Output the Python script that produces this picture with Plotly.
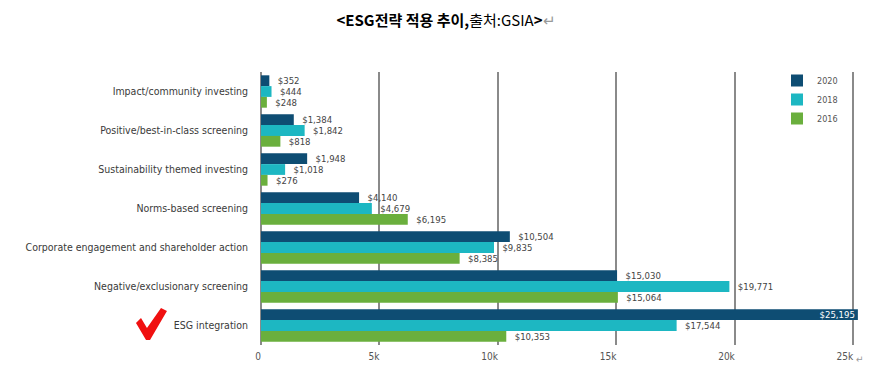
import plotly.graph_objects as go

categories = ["Impact/community investing", "Positive/best-in-class screening",
              "Sustainability themed investing", "Norms-based screening",
              "Corporate engagement and shareholder action",
              "Negative/exclusionary screening", "ESG integration"]
years = ["2020", "2018", "2016"]
v2020 = [352, 1384, 1948, 4140, 10504, 15030, 25195]
v2018 = [444, 1842, 1018, 4679, 9835, 19771, 17544]
v2016 = [248, 818, 276, 6195, 8385, 15064, 10353]
tick_vals = [0, 5000, 10000, 15000, 20000, 25000]
tick_text = ["0", "5k", "10k", "15k", "20k", "25k"]

colors = {"2020": "#0E4D73", "2018": "#1DB7C2", "2016": "#6AAF3D"}
FONT = "DejaVu Sans Condensed, Liberation Sans Narrow, sans-serif"

fig = go.Figure()
for yr, vals in zip(years, [v2020, v2018, v2016]):
    pos = ["outside"] * len(vals)
    labels = ["\u00a0\u00a0" + f"${v:,}" for v in vals]
    if yr == "2020":
        pos[-1] = "inside"
        labels[-1] = f"${vals[-1]:,}"
    fig.add_trace(go.Bar(
        y=categories, x=vals, name=yr, orientation="h",
        marker=dict(color=colors[yr], line=dict(width=0)),
        text=labels, textposition=pos, constraintext="none",
        insidetextanchor="end",
        outsidetextfont=dict(family=FONT, size=9.5, color="#444"),
        insidetextfont=dict(family=FONT, size=9.5, color="white"),
        cliponaxis=False, hoverinfo="x+y",
    ))

# page body has an 8px margin: work in screen pixels, shift by 8
OFF = 8
FW, FH = 888 - OFF, 375 - OFF
L, R, T, B = 261 - OFF, 858 - OFF, 72 - OFF, 345 - OFF
W, H = R - L, B - T
def px(x): return (x - OFF - L) / W
def py(y): return (B - (y - OFF)) / H

check = [(136, 323), (141, 318), (147, 328), (161, 308), (167, 311), (150, 340), (146, 340)]
path = "M " + " L ".join(f"{px(a):.4f},{py(b):.4f}" for a, b in check) + " Z"

fig.update_layout(
    width=FW, height=FH,
    margin=dict(l=L, r=FW - R, t=T, b=FH - B, autoexpand=False),
    paper_bgcolor="white", plot_bgcolor="white",
    barmode="group", bargap=0.17, bargroupgap=0.0,
    font=dict(family=FONT, color="#444"),
    title=dict(text="<b>&lt;ESG전략 적용 추이,</b>출처:GSIA<b>&gt;</b><span style='color:#999'>↵</span>",
               x=(446 - OFF) / FW, xanchor="center", y=1 - (21 - OFF) / FH, yanchor="middle",
               font=dict(family="Noto Sans CJK KR", size=15, color="black")),
    xaxis=dict(range=[0, 25200], tickvals=tick_vals, ticktext=tick_text,
               showgrid=True, gridcolor="#8a8a8a", gridwidth=1.5,
               zeroline=True, zerolinecolor="#8a8a8a", zerolinewidth=1.5,
               ticklabelposition="outside left", ticks="", automargin=False,
               ticklabelstandoff=4,
               tickfont=dict(family=FONT, size=10, color="#555"), showline=False),
    yaxis=dict(autorange="reversed", ticks="", showline=False, showgrid=False,
               ticklabelstandoff=12, automargin=False,
               tickfont=dict(family=FONT, size=10.5, color="#3a3a3a")),
    legend=dict(x=px(777), y=py(66), xanchor="left", yanchor="top",
                font=dict(family=FONT, size=9, color="#555"),
                bgcolor="rgba(0,0,0,0)", itemwidth=30, tracegroupgap=0),
    shapes=[dict(type="path", xref="paper", yref="paper", path=path,
                 fillcolor="#F01010", line=dict(width=0), layer="above")],
    annotations=[dict(text="↵", x=px(866), y=py(367), xref="paper", yref="paper",
                      showarrow=False, font=dict(size=10, color="#999"))],
)
fig.write_html("out.html")
